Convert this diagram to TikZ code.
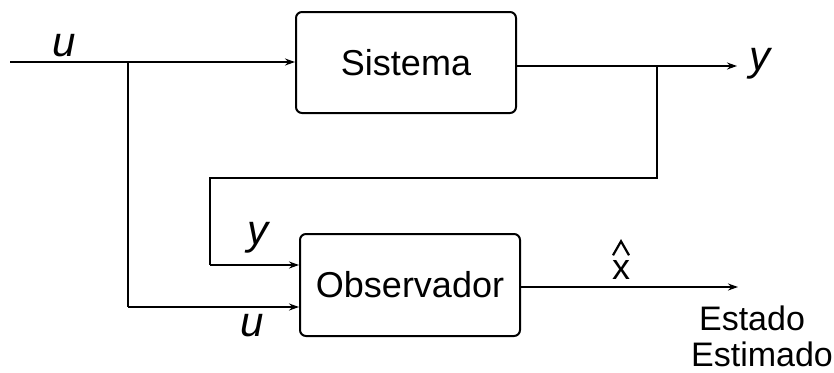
\documentclass[tikz,border=0pt]{standalone}
\usepackage{fontspec}
\setmainfont{Liberation Sans}
\usetikzlibrary{arrows.meta}
\begin{document}
\begin{tikzpicture}[x=1pt,y=-1pt,
  blk/.style={draw,line width=2pt,rounded corners=6pt,inner sep=0pt},
  wire/.style={line width=2pt},
  arr/.style={wire,-{Stealth[length=10pt,width=7pt]}},
  lbl/.style={font=\fontsize{42}{48}\selectfont\itshape,inner sep=0pt},
  txt/.style={font=\fontsize{36}{42}\selectfont,inner sep=0pt}]
\useasboundingbox (0,0) rectangle (834,372);
\node[blk,minimum width=220pt,minimum height=101pt,txt] (sis) at (406,62.5) {Sistema};
\node[blk,minimum width=220pt,minimum height=102pt,txt] (obs) at (410,285) {Observador};
\coordinate (in) at (10,62);
\coordinate (b1) at (128,62);
\coordinate (b1d) at (128,307);
\coordinate (b2) at (657,66);
\coordinate (yout) at (737,66);
\coordinate (b2d) at (657,178);
\coordinate (b3) at (210,178);
\coordinate (b3d) at (210,265);
\coordinate (xout) at (738,287);
\draw[arr] (in) -- (sis.west |- in);
\draw[wire] (b1) -- (b1d);
\draw[arr] (b1d) -- (obs.west |- b1d);
\draw[arr] (sis.east |- b2) -- (yout);
\draw[wire] (b2) -- (b2d) -- (b3) -- (b3d);
\draw[arr] (b3d) -- (obs.west |- b3d);
\draw[arr] (obs.east |- xout) -- (xout);
\node[lbl] (lu1) at (64,46) {u};
\node[lbl] (ly1) at (760,64) {y};
\node[lbl] (ly2) at (258,238) {y};
\node[lbl] (lu2) at (252,326) {u};
\node[txt] (lx) at (621,270) {x};
\draw[line width=2.2pt,line join=miter] ([xshift=-8pt,yshift=5pt]lx.north) -- ([yshift=19pt]lx.north) -- ([xshift=8pt,yshift=5pt]lx.north);
\node[txt,font=\fontsize{34}{40}\selectfont] (est1) at (752,318) {Estado};
\node[txt,font=\fontsize{34}{40}\selectfont] (est2) at (762,354) {Estimado};
\end{tikzpicture}
\end{document}
